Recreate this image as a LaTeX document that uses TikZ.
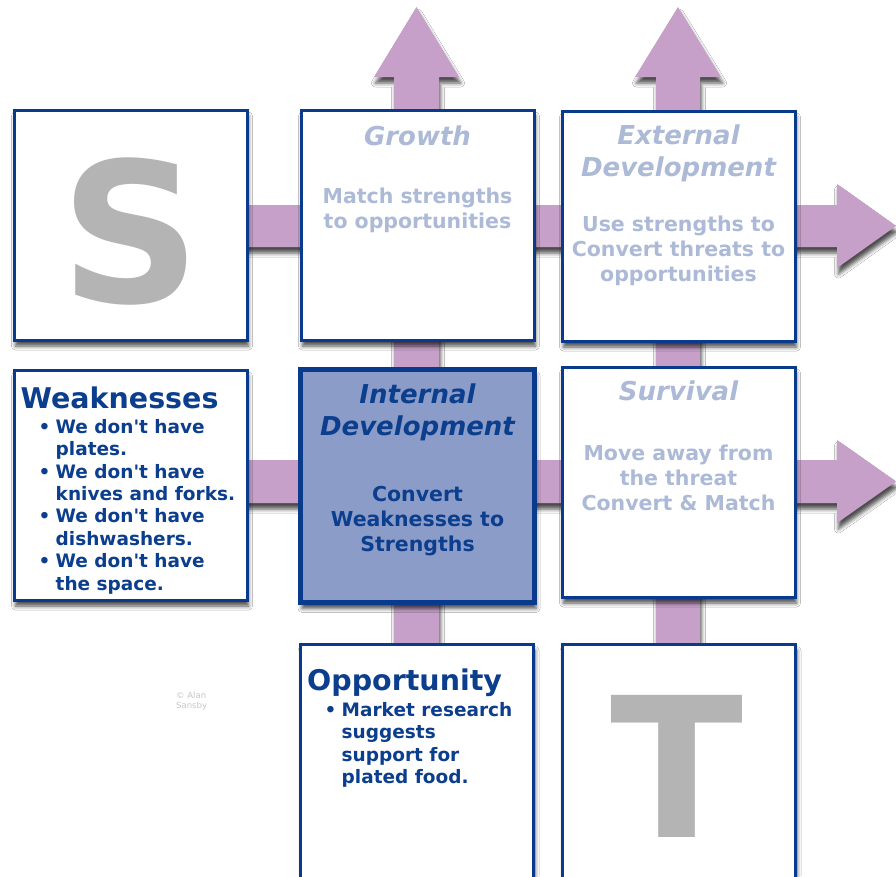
\documentclass[tikz,border=0pt]{standalone}
\usepackage{fontspec}
\setmainfont{DejaVu Sans}
\usetikzlibrary{positioning,shadows.blur}
\definecolor{boxblue}{RGB}{10,58,140}
\definecolor{txtblue}{RGB}{12,62,142}
\definecolor{paleblue}{RGB}{172,186,216}
\definecolor{barpink}{RGB}{198,160,200}
\definecolor{innerfill}{RGB}{140,156,200}
\definecolor{lettergray}{RGB}{180,180,180}
\newcommand{\wbullet}[2]{\makebox[17pt][l]{\textbullet}#1\\\hspace*{17pt}#2}
\newcommand{\donthave}{We don\textquotesingle t have}
\begin{document}
\begin{tikzpicture}[x=1pt,y=-1pt,
    shade/.style={blur shadow={shadow xshift=1.5pt,shadow yshift=-6pt,shadow blur radius=4pt,shadow opacity=70}},
    bar/.style={fill=barpink,shade},
    box/.style={draw=boxblue,line width=3pt,fill=white,minimum width=233pt,minimum height=230pt,inner sep=0pt,shade},
    headpale/.style={text=paleblue,font=\fontsize{26}{32}\selectfont\bfseries\itshape,align=center,inner sep=0pt},
    bodypale/.style={text=paleblue,font=\fontsize{20.5}{25}\selectfont\bfseries,align=center,inner sep=0pt},
    headdark/.style={headpale,text=txtblue},
    bodydark/.style={bodypale,text=txtblue},
    listhead/.style={text=txtblue,font=\fontsize{28.5}{32}\selectfont\bfseries,anchor=north west,inner sep=0pt},
    listtxt/.style={text=txtblue,font=\fontsize{18.5}{22.4}\selectfont\bfseries,align=left,anchor=north west,inner sep=0pt},
    letter/.style={text=lettergray,font=\fontsize{195}{195}\selectfont\bfseries,inner sep=0pt}]
    \useasboundingbox[fill=white] (0,0) rectangle (896,876);
    % Pfeile
    \fill[bar] (394,700) -- (394,77) -- (374,77) -- (416.5,7) -- (459,77) -- (439,77) -- (439,700) -- cycle;
    \fill[bar] (656,700) -- (656,77) -- (635,77) -- (678,7) -- (721,77) -- (700,77) -- (700,700) -- cycle;
    \fill[bar] (150,205) -- (837,205) -- (837,184) -- (896,226) -- (837,268) -- (837,247) -- (150,247) -- cycle;
    \fill[bar] (150,460) -- (837,460) -- (837,440) -- (896,481.5) -- (837,523) -- (837,503) -- (150,503) -- cycle;
    % Kaesten
    \node[box] (sbox) at (130.5,225) {};
    \node[box] (growth) at (417.5,225) {};
    \node[box] (external) at (678.5,226) {};
    \node[box] (weak) at (130.5,485) {};
    \node[box,fill=innerfill,line width=5pt,minimum width=234pt,minimum height=233pt] (internal) at (417.5,486) {};
    \node[box] (survival) at (678.5,482) {};
    \node[box,minimum height=236pt] (opp) at (417,762.5) {};
    \node[box,minimum height=236pt] (tbox) at (679,762.5) {};
    % Buchstaben
    \node[letter] (sletter) at ([yshift=-6.5pt]sbox.center) {S};
    \node[letter] (tletter) at ([xshift=-2pt,yshift=-4pt]tbox.center) {T};
    % Texte
    \node[headpale,below=17pt of growth.north] (growthhd) {Growth};
    \node[bodypale,below=79pt of growth.north] (growthtx) {Match strengths\\to opportunities};
    \node[headpale,below=15pt of external.north] (externalhd) {External\\Development};
    \node[bodypale,below=106pt of external.north] (externaltx) {Use strengths to\\Convert threats to\\opportunities};
    \node[headpale,below=15pt of survival.north] (survivalhd) {Survival};
    \node[bodypale,below=79pt of survival.north] (survivaltx) {Move away from\\the threat\\Convert \& Match};
    \node[headdark,below=17pt of internal.north] (internalhd) {Internal\\Development};
    \node[bodydark,below=119pt of internal.north] (internaltx) {Convert\\Weaknesses to\\Strengths};
    \node[listhead,below right=18pt and 8pt of weak.north west] (weakhd) {Weaknesses};
    \node[listtxt,below right=50.5pt and 26pt of weak.north west] (weaktx)
        {\wbullet{\donthave}{plates.}\\\wbullet{\donthave}{knives and forks.}\\
         \wbullet{\donthave}{dishwashers.}\\\wbullet{\donthave}{the space.}};
    \node[listhead,below right=26pt and 8pt of opp.north west] (opphd) {Opportunity};
    \node[listtxt,below right=59pt and 25.5pt of opp.north west] (opptx)
        {\wbullet{Market research}{suggests}\\\hspace*{17pt}support for\\\hspace*{17pt}plated food.};
    \node[text=black!22,font=\fontsize{8.5}{10}\selectfont,align=left,anchor=north west,inner sep=0pt] (copy) at (176,692) {© Alan\\Sansby};
\end{tikzpicture}
\end{document}
